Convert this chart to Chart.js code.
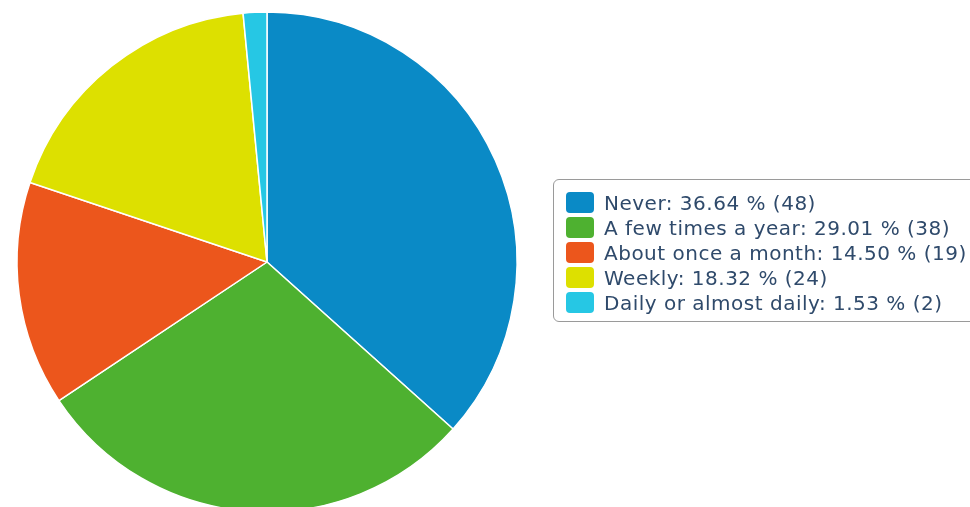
<!DOCTYPE html>
<html>
<head>
<meta charset="utf-8">
<script src="https://cdn.jsdelivr.net/npm/chart.js@4/dist/chart.umd.min.js"></script>
<style>
    html, body {
        margin: 0;
        padding: 0;
        background: #ffffff;
        overflow: hidden;
    }
    #wrap {
        position: relative;
        width: 970px;
        height: 507px;
    }
    #pie {
        position: absolute;
        left: 0;
        top: 0;
    }
    #legend {
        position: absolute;
        left: 553px;
        top: 179px;
        width: 440px;
        height: 143px;
        box-sizing: border-box;
        border: 1px solid #9a9a9a;
        border-radius: 6px;
        padding: 10px 0 0 12px;
        font-family: "DejaVu Sans", sans-serif;
        font-size: 20px;
        letter-spacing: 0.5px;
        color: #2f4a6b;
        white-space: nowrap;
    }
    .legend-row {
        display: flex;
        align-items: center;
        height: 25px;
    }
    .legend-swatch {
        width: 28px;
        height: 21px;
        border-radius: 4px;
        margin-right: 10px;
        flex: none;
    }
</style>
</head>
<body>
<div id="wrap">
    <canvas id="pie" width="970" height="507"></canvas>
    <div id="legend"></div>
</div>
<script>
const categories = [
    "Never",
    "A few times a year",
    "About once a month",
    "Weekly",
    "Daily or almost daily"
];
const responses = [48, 38, 19, 24, 2];
const sliceColors = ["#0a8ac6", "#4eb130", "#ec561c", "#dde000", "#26c7e4"];

const total = responses.reduce((acc, val) => acc + val, 0);

function legendText(index) {
    const percent = ((responses[index] / total) * 100).toFixed(2);
    return `${categories[index]}: ${percent} % (${responses[index]})`;
}

const pieChart = new Chart(document.getElementById("pie").getContext("2d"), {
    type: "pie",
    data: {
        labels: categories,
        datasets: [
            {
                data: responses,
                backgroundColor: sliceColors,
                borderColor: "#ffffff",
                borderWidth: 1.5,
                hoverOffset: 0
            }
        ]
    },
    options: {
        responsive: false,
        animation: false,
        radius: 250,
        layout: {
            padding: { top: 17, right: 436, bottom: 0, left: 0 }
        },
        plugins: {
            legend: { display: false },
            tooltip: { enabled: false }
        }
    }
});

// legend box on the right, one row per slice
const legendEl = document.getElementById("legend");
categories.forEach((label, index) => {
    const row = document.createElement("div");
    row.className = "legend-row";

    const swatch = document.createElement("span");
    swatch.className = "legend-swatch";
    swatch.style.background = sliceColors[index];
    row.appendChild(swatch);

    const text = document.createElement("span");
    text.textContent = legendText(index);
    row.appendChild(text);

    legendEl.appendChild(row);
});
</script>
</body>
</html>
